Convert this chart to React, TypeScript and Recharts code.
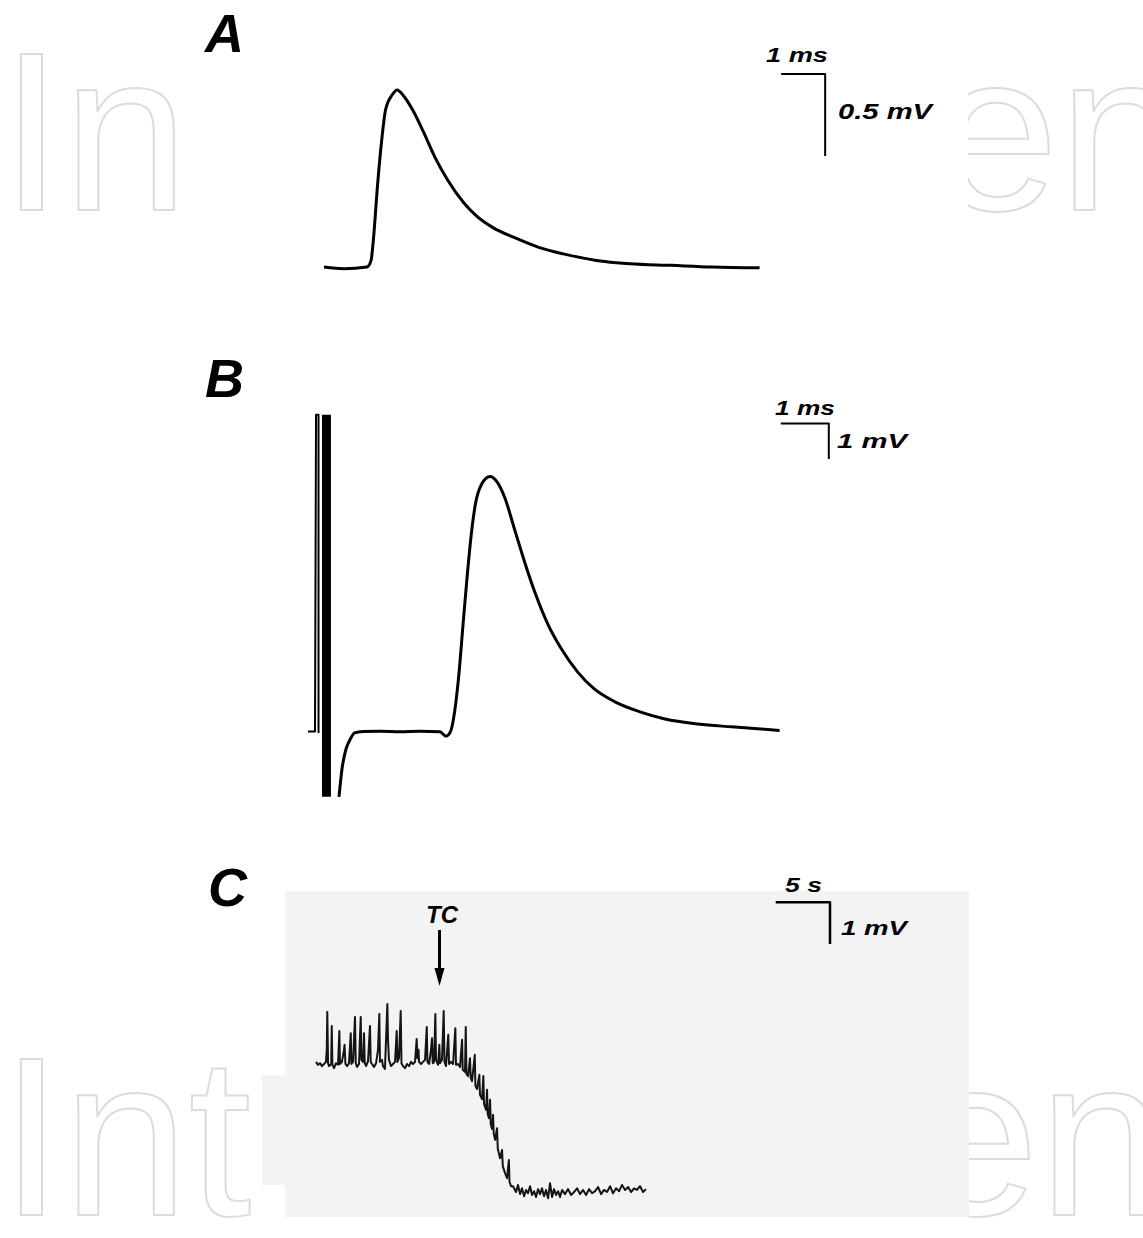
import { LineChart, Line, XAxis, YAxis } from 'recharts';

// A: averaged field potential (time ms, amplitude mV)
const traceA = [
  { t: 0, v: 0 }, { t: 0.45, v: -0.01 }, { t: 0.98, v: 0 }, { t: 1.07, v: 0.04 },
  { t: 1.12, v: 0.16 }, { t: 1.22, v: 0.51 }, { t: 1.31, v: 0.77 }, { t: 1.4, v: 0.96 },
  { t: 1.55, v: 1.05 }, { t: 1.66, v: 1.08 }, { t: 1.82, v: 1.04 }, { t: 2.01, v: 0.96 },
  { t: 2.25, v: 0.83 }, { t: 2.52, v: 0.67 }, { t: 2.81, v: 0.53 }, { t: 3.18, v: 0.39 },
  { t: 3.47, v: 0.31 }, { t: 3.84, v: 0.24 }, { t: 4.32, v: 0.18 }, { t: 4.88, v: 0.12 },
  { t: 5.44, v: 0.08 }, { t: 6.19, v: 0.04 }, { t: 6.95, v: 0.02 }, { t: 7.89, v: 0.01 },
  { t: 8.82, v: 0 }, { t: 9.9, v: -0.005 },
];
const scaleA = [{ t: 10.39, v: 1.177 }, { t: 11.39, v: 1.177 }, { t: 11.39, v: 0.677 }];

// B: stimulus artifact + evoked response (time ms, amplitude mV)
const stimB = [
  { t: 0, v: 0 }, { t: 0.146, v: 0 }, { t: 0.167, v: 8.87 }, { t: 0.219, v: 8.87 }, { t: 0.219, v: -0.04 },
];
const artifactB = [{ t: 0.385, v: 8.87 }, { t: 0.385, v: -1.83 }];
const traceB = [
  { t: 0.646, v: -1.83 }, { t: 0.708, v: -1.05 }, { t: 0.792, v: -0.49 }, { t: 0.883, v: -0.21 },
  { t: 0.971, v: -0.04 }, { t: 1.146, v: 0 }, { t: 1.5, v: 0.01 }, { t: 1.92, v: -0.01 },
  { t: 2.33, v: 0.01 }, { t: 2.75, v: -0.01 }, { t: 2.875, v: -0.13 }, { t: 2.967, v: -0.01 },
  { t: 3.054, v: 0.55 }, { t: 3.142, v: 1.58 }, { t: 3.229, v: 2.98 }, { t: 3.313, v: 4.3 },
  { t: 3.402, v: 5.53 }, { t: 3.488, v: 6.37 }, { t: 3.619, v: 6.93 }, { t: 3.792, v: 7.14 },
  { t: 3.938, v: 6.99 }, { t: 4.096, v: 6.56 }, { t: 4.313, v: 5.62 }, { t: 4.529, v: 4.68 },
  { t: 4.746, v: 3.83 }, { t: 5.006, v: 2.98 }, { t: 5.271, v: 2.33 }, { t: 5.615, v: 1.67 },
  { t: 5.958, v: 1.2 }, { t: 6.396, v: 0.83 }, { t: 6.917, v: 0.55 }, { t: 7.438, v: 0.35 },
  { t: 8.125, v: 0.21 }, { t: 8.827, v: 0.13 }, { t: 9.825, v: 0.03 },
];
const scaleB = [{ t: 9.85, v: 8.63 }, { t: 10.85, v: 8.63 }, { t: 10.85, v: 7.63 }];

// C: slow recording with TC application (time s, amplitude mV)
const traceC = [
  { t: 0, v: 0.05 }, { t: 0.18, v: -0.02 }, { t: 0.37, v: 0.02 }, { t: 0.55, v: -0.05 },
  { t: 0.74, v: 0 }, { t: 0.92, v: 0.05 }, { t: 0.99, v: 0.34 }, { t: 1.04, v: 1.25 },
  { t: 1.11, v: 0.02 }, { t: 1.2, v: -0.05 }, { t: 1.4, v: 0 }, { t: 1.45, v: 0.91 },
  { t: 1.51, v: -0.02 }, { t: 1.66, v: -0.1 }, { t: 1.84, v: 0.02 }, { t: 2.03, v: -0.02 },
  { t: 2.15, v: 0.79 }, { t: 2.21, v: 0 }, { t: 2.39, v: 0.05 }, { t: 2.58, v: 0.34 },
  { t: 2.63, v: 0.46 }, { t: 2.71, v: 0 }, { t: 2.86, v: -0.05 }, { t: 3.04, v: 0.02 },
  { t: 3.2, v: 0.74 }, { t: 3.26, v: 0 }, { t: 3.41, v: 0.05 }, { t: 3.59, v: 1.13 },
  { t: 3.66, v: 0.02 }, { t: 3.78, v: -0.07 }, { t: 3.96, v: 0 }, { t: 4.12, v: 1.13 },
  { t: 4.18, v: 0.1 }, { t: 4.33, v: 0.05 }, { t: 4.42, v: 0.74 }, { t: 4.49, v: 0.02 },
  { t: 4.61, v: -0.05 }, { t: 4.79, v: 0.07 }, { t: 4.97, v: 0.91 }, { t: 5.04, v: 0.05 },
  { t: 5.16, v: 0 }, { t: 5.34, v: -0.07 }, { t: 5.53, v: 0.02 }, { t: 5.71, v: 0.34 },
  { t: 5.83, v: 1.2 }, { t: 5.89, v: 0.05 }, { t: 6.08, v: 0.1 }, { t: 6.17, v: -0.05 },
  { t: 6.35, v: -0.12 }, { t: 6.57, v: 1.44 }, { t: 6.63, v: 0.58 }, { t: 6.72, v: 0.1 },
  { t: 6.91, v: -0.05 }, { t: 7.09, v: 0 }, { t: 7.28, v: 0.05 }, { t: 7.43, v: 0.79 },
  { t: 7.5, v: 0.05 }, { t: 7.64, v: 0.14 }, { t: 7.8, v: 1.27 }, { t: 7.87, v: 0.02 },
  { t: 8.01, v: -0.05 }, { t: 8.2, v: -0.1 }, { t: 8.38, v: 0 }, { t: 8.57, v: -0.05 },
  { t: 8.75, v: 0.05 }, { t: 8.93, v: 0 }, { t: 9.12, v: 0.05 }, { t: 9.27, v: 0.6 },
  { t: 9.34, v: 0.14 }, { t: 9.44, v: 0.34 }, { t: 9.49, v: 0.05 }, { t: 9.67, v: 0 },
  { t: 9.85, v: 0.05 }, { t: 10.04, v: 0.1 }, { t: 10.2, v: 0.89 }, { t: 10.26, v: 0.05 },
  { t: 10.41, v: 0 }, { t: 10.59, v: 0.34 }, { t: 10.68, v: 0.62 }, { t: 10.75, v: 0.02 },
  { t: 10.87, v: 0.05 }, { t: 10.99, v: 1.2 }, { t: 11.05, v: 0.1 }, { t: 11.24, v: -0.02 },
  { t: 11.36, v: 0.46 }, { t: 11.42, v: 0.02 }, { t: 11.6, v: 0.1 }, { t: 11.76, v: 1.27 },
  { t: 11.83, v: 0.05 }, { t: 11.97, v: -0.05 }, { t: 12.18, v: 0.7 }, { t: 12.25, v: 0 },
  { t: 12.43, v: 0.05 }, { t: 12.62, v: 0 }, { t: 12.83, v: 0.86 }, { t: 12.89, v: -0.02 },
  { t: 13.08, v: 0 }, { t: 13.26, v: -0.07 }, { t: 13.45, v: 0.58 }, { t: 13.51, v: -0.14 },
  { t: 13.72, v: -0.19 }, { t: 13.79, v: 0.89 }, { t: 13.85, v: -0.24 }, { t: 14.0, v: -0.29 },
  { t: 14.18, v: 0.14 }, { t: 14.25, v: -0.34 }, { t: 14.37, v: -0.41 }, { t: 14.62, v: 0.22 },
  { t: 14.68, v: -0.53 }, { t: 14.83, v: -0.6 }, { t: 15.04, v: -0.26 }, { t: 15.1, v: -0.74 },
  { t: 15.29, v: -0.84 }, { t: 15.41, v: -0.29 }, { t: 15.47, v: -0.96 }, { t: 15.66, v: -1.1 },
  { t: 15.75, v: -0.62 }, { t: 15.81, v: -1.2 }, { t: 15.93, v: -1.3 }, { t: 16.03, v: -0.86 },
  { t: 16.09, v: -1.44 }, { t: 16.21, v: -1.56 }, { t: 16.3, v: -1.22 }, { t: 16.37, v: -1.68 },
  { t: 16.49, v: -1.82 }, { t: 16.67, v: -1.54 }, { t: 16.74, v: -2.04 }, { t: 16.95, v: -2.26 },
  { t: 17.13, v: -2.06 }, { t: 17.2, v: -2.45 }, { t: 17.41, v: -2.62 }, { t: 17.59, v: -2.74 },
  { t: 17.76, v: -2.3 }, { t: 17.82, v: -2.83 }, { t: 17.96, v: -2.93 }, { t: 18.14, v: -2.93 },
  { t: 18.42, v: -3.07 }, { t: 18.6, v: -2.9 }, { t: 18.79, v: -3.12 }, { t: 18.97, v: -2.98 },
  { t: 19.16, v: -3.17 }, { t: 19.34, v: -3.02 }, { t: 19.52, v: -3.1 }, { t: 19.71, v: -2.93 },
  { t: 19.89, v: -3.14 }, { t: 20.08, v: -3.05 }, { t: 20.26, v: -3.19 }, { t: 20.45, v: -3.0 },
  { t: 20.63, v: -3.12 }, { t: 20.81, v: -2.98 }, { t: 21.0, v: -3.17 }, { t: 21.18, v: -3.02 },
  { t: 21.37, v: -3.22 }, { t: 21.55, v: -2.86 }, { t: 21.74, v: -3.19 }, { t: 21.92, v: -3.0 },
  { t: 22.1, v: -3.14 }, { t: 22.29, v: -3.05 }, { t: 22.47, v: -3.19 }, { t: 22.66, v: -3.02 },
  { t: 22.93, v: -3.12 }, { t: 23.21, v: -3.0 }, { t: 23.49, v: -3.14 }, { t: 23.76, v: -3.07 },
  { t: 24.04, v: -2.98 }, { t: 24.31, v: -3.12 }, { t: 24.59, v: -3.02 }, { t: 24.87, v: -3.14 },
  { t: 25.14, v: -3.0 }, { t: 25.42, v: -3.1 }, { t: 25.7, v: -3.05 }, { t: 25.97, v: -2.95 },
  { t: 26.25, v: -3.12 }, { t: 26.52, v: -3.02 }, { t: 26.8, v: -3.07 }, { t: 27.08, v: -2.93 },
  { t: 27.35, v: -3.1 }, { t: 27.63, v: -2.98 }, { t: 27.91, v: -3.05 }, { t: 28.18, v: -2.9 },
  { t: 28.46, v: -3.02 }, { t: 28.74, v: -2.95 }, { t: 29.01, v: -3.07 }, { t: 29.29, v: -2.98 },
  { t: 29.56, v: -3.02 }, { t: 29.84, v: -2.93 }, { t: 30.12, v: -3.07 }, { t: 30.39, v: -3.0 },
];
const scaleC = [{ t: 42.33, v: 3.88 }, { t: 47.33, v: 3.88 }, { t: 47.33, v: 2.88 }];

const labelFont = '"Liberation Sans", Arial, sans-serif';

type Pt = { t: number; v: number };
type Series = { data: Pt[]; width: number; smooth?: boolean; color?: string };
type Frame = {
  left: number; top: number; width: number; height: number;
  ox: number; oy: number; sx: number; sy: number;
};

// position of each panel on the page and the px-per-unit given by its scale bars
const frameA: Frame = { left: 300, top: 30, width: 680, height: 270, ox: 324, oy: 267, sx: 44, sy: 164 };
const frameB: Frame = { left: 290, top: 380, width: 690, height: 440, ox: 308, oy: 731.5, sx: 48, sy: 35.7 };
const frameC: Frame = { left: 280, top: 880, width: 700, height: 345, ox: 316, oy: 1064, sx: 10.86, sy: 41.7 };

function TracePanel({ frame, series }: { frame: Frame; series: Series[] }) {
  const { left, top, width, height, ox, oy, sx, sy } = frame;
  const xDomain = [(left - ox) / sx, (left + width - ox) / sx];
  const yDomain = [(oy - (top + height)) / sy, (oy - top) / sy];
  return (
    <div style={{ position: 'absolute', left, top }}>
      <LineChart width={width} height={height} margin={{ top: 0, right: 0, bottom: 0, left: 0 }}>
        <XAxis type="number" dataKey="t" domain={xDomain} hide allowDataOverflow />
        <YAxis type="number" domain={yDomain} hide allowDataOverflow />
        {series.map((s, i) => (
          <Line
            key={i}
            data={s.data}
            dataKey="v"
            type={s.smooth ? 'monotone' : 'linear'}
            stroke={s.color ?? '#000'}
            strokeWidth={s.width}
            strokeLinejoin="round"
            dot={false}
            activeDot={false}
            isAnimationActive={false}
          />
        ))}
      </LineChart>
    </div>
  );
}

function Label({ x, y, size, text, length }: { x: number; y: number; size: number; text: string; length?: number }) {
  return (
    <text
      x={x}
      y={y}
      fontSize={size}
      fontFamily={labelFont}
      fontWeight="bold"
      fontStyle="italic"
      fill="#000"
      textLength={length}
      lengthAdjust={length ? 'spacingAndGlyphs' : undefined}
    >
      {text}
    </text>
  );
}

function Watermark({ x, y, text }: { x: number; y: number; text: string }) {
  return (
    <text x={x} y={y} fontSize={226} fontFamily={labelFont} fill="#fff" stroke="#dcdcdc" strokeWidth={2}>
      {text}
    </text>
  );
}

export default function App() {
  return (
    <div style={{ position: 'absolute', left: 0, top: 0, width: 1143, height: 1238, background: '#fff', overflow: 'hidden' }}>
      {/* watermark, partly hidden behind the figure */}
      <svg width={1143} height={1238} style={{ position: 'absolute', left: 0, top: 0 }}>
        <Watermark x={0} y={210} text="In" />
        <Watermark x={933} y={210} text="en" />
        <Watermark x={0} y={1215} text="Int" />
        <Watermark x={913} y={1215} text="en" />
      </svg>
      <div style={{ position: 'absolute', left: 190, top: 0, width: 778, height: 320, background: '#fff' }} />
      <div style={{ position: 'absolute', left: 262, top: 1185, width: 706, height: 53, background: '#fff' }} />
      <div style={{ position: 'absolute', left: 285, top: 891, width: 684, height: 326, background: '#f3f3f3' }} />
      <div style={{ position: 'absolute', left: 262, top: 1075, width: 23, height: 110, background: '#f3f3f3' }} />

      <TracePanel
        frame={frameA}
        series={[
          { data: traceA, width: 3, smooth: true },
          { data: scaleA, width: 2 },
        ]}
      />
      <TracePanel
        frame={frameB}
        series={[
          { data: stimB, width: 2 },
          { data: artifactB, width: 9 },
          { data: traceB, width: 3, smooth: true },
          { data: scaleB, width: 2 },
        ]}
      />
      <TracePanel
        frame={frameC}
        series={[
          { data: traceC, width: 2, color: '#141414' },
          { data: scaleC, width: 2.5 },
        ]}
      />

      <svg width={1143} height={1238} style={{ position: 'absolute', left: 0, top: 0, pointerEvents: 'none' }}>
        <Label x={205} y={52} size={54} text="A" />
        <Label x={205} y={397} size={54} text="B" />
        <Label x={208} y={906} size={54} text="C" />

        <Label x={766} y={62} size={21} text="1 ms" length={62} />
        <Label x={838} y={119} size={22} text="0.5 mV" length={94} />
        <Label x={775} y={415} size={21} text="1 ms" length={60} />
        <Label x={837} y={448} size={21} text="1 mV" length={70} />
        <Label x={785} y={892} size={21} text="5 s" length={37} />
        <Label x={841} y={935} size={21} text="1 mV" length={66} />

        <Label x={426} y={923} size={24} text="TC" />
        <line x1={439.5} y1={930} x2={439.5} y2={972} stroke="#000" strokeWidth={3} />
        <polygon points="434.5,968 444.5,968 439.5,986" fill="#000" />
      </svg>
    </div>
  );
}
